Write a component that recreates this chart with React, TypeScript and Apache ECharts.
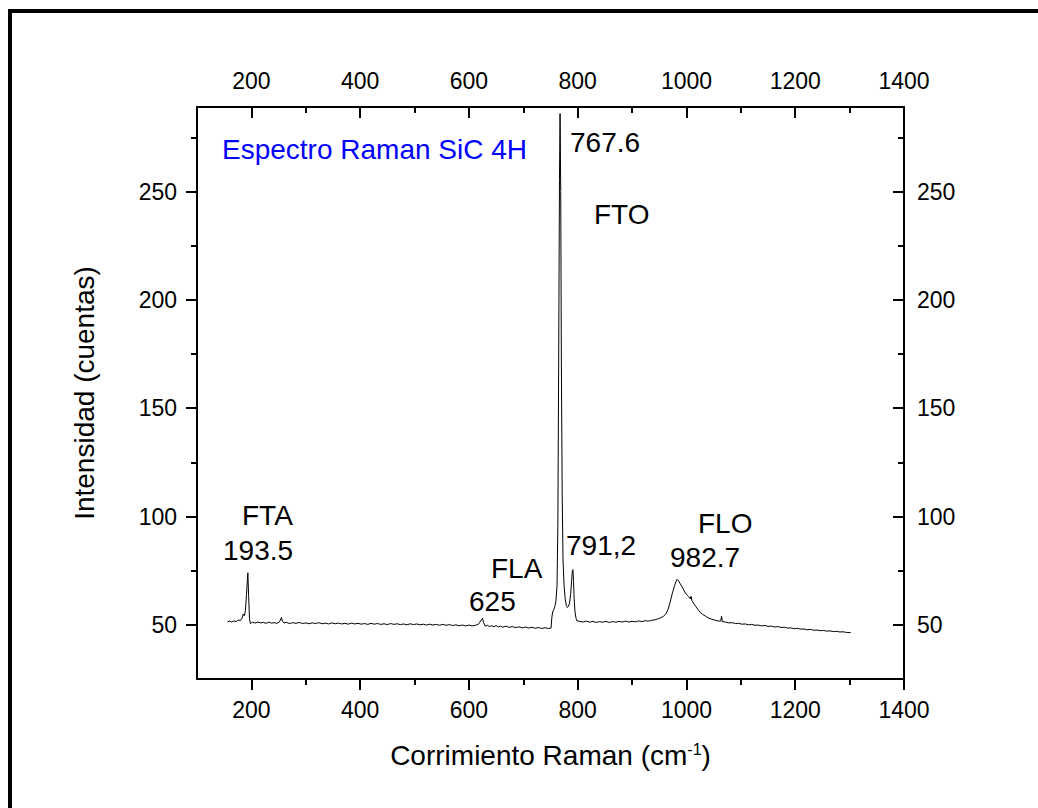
import { useEffect, useRef } from "react";
import * as echarts from "echarts";

const FONT = '"Liberation Sans", Arial, Helvetica, sans-serif';

// Raman shift (cm-1) / intensity (counts) pairs, read section by section.
const acousticRegion: [number, number][] = [
  [156, 51.4], [160, 51.7], [164, 51.3], [168, 51.8], [172, 51.5], [176, 52.2], [180, 52.0],
  [183, 53.2], [185, 55.0], [187, 54.2], [189, 56.5], [191, 64], [193.5, 74], [195, 63],
  [196.5, 53], [198, 50.6], [202, 51.2], [207, 50.8], [212, 51.3], [217, 50.9], [222, 51.1],
  [227, 50.7], [232, 51.2], [237, 50.8], [242, 51.0], [247, 50.7], [251, 51.2], [253.5, 52.2],
  [255.3, 53.4], [257, 51.6], [260, 50.9], [265, 51.1], [270, 50.6], [276, 51.0], [282, 50.7],
  [288, 51.1], [294, 50.6], [300, 50.9], [306, 50.5], [312, 50.9], [318, 50.6], [324, 51.0],
  [330, 50.5], [336, 50.8], [342, 50.4], [348, 50.9], [354, 50.5], [360, 50.8], [366, 50.4],
  [372, 50.7], [378, 50.3], [384, 50.8], [390, 50.4], [396, 50.7], [402, 50.3], [408, 50.6],
  [414, 50.2], [420, 50.7], [426, 50.3], [432, 50.6], [438, 50.2], [444, 50.5], [450, 50.1],
  [456, 50.6], [462, 50.2], [468, 50.5], [474, 50.1], [480, 50.4], [486, 50.0], [492, 50.5],
  [498, 50.1], [504, 50.4], [510, 50.0], [516, 50.3], [522, 49.9], [528, 50.3], [534, 49.9],
  [540, 50.2], [546, 49.8], [552, 50.2], [558, 49.8], [564, 50.1], [570, 49.7], [576, 50.0],
  [582, 49.6], [588, 49.9], [594, 49.5], [600, 49.9], [606, 49.5], [612, 49.8], [617, 50.2],
  [620, 51.2], [622.5, 52.2], [625, 53.0], [627, 51.0], [630, 49.4], [634, 49.8], [638, 49.2],
  [642, 49.6], [646, 49.1], [650, 49.7], [654, 49.0], [658, 49.4], [662, 48.9], [668, 49.4],
  [674, 48.8], [680, 49.2], [686, 48.7], [692, 49.1], [698, 48.6], [704, 49.0], [710, 48.5],
  [716, 48.9], [722, 48.4], [728, 48.8], [734, 48.3], [740, 48.7], [746, 48.3], [751, 48.5],
];

const opticalTORegion: [number, number][] = [
  [752.5, 53.5], [754, 56.0], [756, 57.0], [758, 58.5], [760, 61], [762, 68], [763.5, 95],
  [765, 170], [766.5, 255], [767.6, 286], [768.8, 250], [770, 170], [771.5, 110], [773, 80],
  [775, 68], [777, 62], [779, 59], [781, 58], [783, 58.5], [785, 60], [787, 64], [789, 71],
  [790.2, 75], [791.2, 75.5], [792.3, 70], [793.5, 62], [795, 56], [797, 53], [799, 51.8],
];

const opticalLORegion: [number, number][] = [
  [804, 51.6], [810, 51.3], [816, 51.7], [822, 51.2], [828, 51.6], [834, 51.1], [840, 51.5],
  [846, 51.2], [852, 51.6], [858, 51.1], [864, 51.5], [870, 51.2], [876, 51.6], [882, 51.3],
  [888, 51.7], [894, 51.3], [900, 51.6], [906, 51.4], [912, 51.8], [918, 51.5], [924, 51.9],
  [930, 51.7], [936, 52.1], [942, 52.3], [948, 52.8], [953, 53.3], [958, 54.0], [962, 55.0],
  [966, 57.0], [970, 60.5], [974, 64.5], [978, 68.0], [981, 70.2], [982.7, 71.0], [985, 70.4],
  [988, 69.2], [992, 67.5], [996, 65.6], [1000, 64.0], [1004, 63.0], [1007, 62.0],
  [1008.5, 63.2], [1010, 61.2], [1014, 59.6], [1018, 58.2], [1022, 56.8], [1026, 55.6],
  [1030, 54.8], [1035, 54.0], [1040, 53.2], [1046, 52.6], [1052, 52.2], [1058, 51.8],
  [1063, 51.7], [1064.5, 54.0], [1066, 51.5], [1072, 51.3], [1078, 50.9], [1084, 51.0],
  [1090, 50.6], [1096, 50.7], [1102, 50.3], [1108, 50.4], [1114, 50.0], [1120, 50.2],
  [1126, 49.8], [1132, 49.9], [1138, 49.5], [1144, 49.7], [1150, 49.3], [1156, 49.4],
  [1162, 49.0], [1168, 49.2], [1174, 48.8], [1180, 48.9], [1186, 48.5], [1192, 48.6],
  [1198, 48.2], [1204, 48.4], [1210, 48.0], [1216, 48.1], [1222, 47.7], [1228, 47.9],
  [1234, 47.5], [1240, 47.6], [1246, 47.3], [1252, 47.4], [1258, 47.1], [1264, 47.2],
  [1270, 46.9], [1276, 47.0], [1282, 46.7], [1288, 46.8], [1294, 46.5], [1302, 46.4],
];

const majorShiftTicks = [200, 400, 600, 800, 1000, 1200, 1400];
const minorShiftTicks = [300, 500, 700, 900, 1100, 1300];
const majorCountTicks = [50, 100, 150, 200, 250];
const minorCountTicks = [75, 125, 175, 225, 275];

const SHIFT_MIN = 100;
const SHIFT_MAX = 1400;
const COUNT_MIN = 25;
const COUNT_MAX = 289;

export default function App() {
  const ref = useRef<HTMLDivElement>(null);

  useEffect(() => {
    if (!ref.current) return;
    const chart = echarts.init(ref.current, undefined, { renderer: "svg" });

    const black = "#000";
    const line = { color: black, width: 2 };
    const tickFont = {
      fontSize: 23,
      color: black,
      fontFamily: FONT,
      formatter: (v: number) => String(v),
    };

    const xBase = {
      type: "value" as const,
      min: SHIFT_MIN,
      max: SHIFT_MAX,
      interval: 100,
      splitLine: { show: false },
      axisLine: { show: false },
      axisLabel: { show: false },
      axisTick: { show: false },
    };
    const yBase = {
      type: "value" as const,
      min: COUNT_MIN,
      max: COUNT_MAX,
      interval: 25,
      splitLine: { show: false },
      axisLine: { show: false },
      axisLabel: { show: false },
      axisTick: { show: false },
    };

    const spectrum = [...acousticRegion, ...opticalTORegion, ...opticalLORegion];

    const annotation = (text: string, x: number, y: number, fill = black) => ({
      type: "text",
      x,
      y,
      silent: true,
      style: {
        text,
        fill,
        fontSize: 28,
        fontFamily: FONT,
        align: "left",
        verticalAlign: "middle",
        textAlign: "left",
        textVerticalAlign: "middle",
      },
    });

    chart.setOption({
      animation: false,
      backgroundColor: "#fff",
      grid: {
        left: 197,
        right: 134,
        top: 107,
        bottom: 129,
        containLabel: false,
        outerBoundsMode: "none",
      },
      xAxis: [
        {
          ...xBase,
          position: "bottom",
          axisLine: { show: true, onZero: false, lineStyle: line },
          axisTick: { show: true, customValues: majorShiftTicks, length: 11, lineStyle: line },
          axisLabel: { show: true, customValues: majorShiftTicks, margin: 19, ...tickFont },
          name: "Corrimiento Raman (cm{sup|-1})",
          nameLocation: "middle",
          nameGap: 62,
          nameTextStyle: {
            fontSize: 28,
            color: black,
            fontFamily: FONT,
            rich: {
              sup: { fontSize: 16, color: black, fontFamily: FONT, verticalAlign: "top" },
            },
          },
        },
        {
          ...xBase,
          position: "bottom",
          axisTick: { show: true, customValues: minorShiftTicks, length: 6, lineStyle: line },
        },
        {
          ...xBase,
          position: "top",
          axisLine: { show: true, onZero: false, lineStyle: line },
          axisTick: { show: true, inside: true, customValues: majorShiftTicks, length: 11, lineStyle: line },
          axisLabel: { show: true, customValues: majorShiftTicks, margin: 15, ...tickFont },
        },
        {
          ...xBase,
          position: "top",
          axisTick: { show: true, inside: true, customValues: minorShiftTicks, length: 6, lineStyle: line },
        },
      ],
      yAxis: [
        {
          ...yBase,
          position: "left",
          axisLine: { show: true, onZero: false, lineStyle: line },
          axisTick: { show: true, customValues: majorCountTicks, length: 11, lineStyle: line },
          axisLabel: { show: true, customValues: majorCountTicks, margin: 20, ...tickFont },
          name: "Intensidad (cuentas)",
          nameLocation: "middle",
          nameGap: 99,
          nameTextStyle: { fontSize: 28, color: black, fontFamily: FONT },
        },
        {
          ...yBase,
          position: "left",
          axisTick: { show: true, customValues: minorCountTicks, length: 6, lineStyle: line },
        },
        {
          ...yBase,
          position: "right",
          axisLine: { show: true, onZero: false, lineStyle: line },
          axisTick: { show: true, inside: true, customValues: majorCountTicks, length: 11, lineStyle: line },
          axisLabel: { show: true, customValues: majorCountTicks, margin: 13, ...tickFont },
        },
        {
          ...yBase,
          position: "right",
          axisTick: { show: true, inside: true, customValues: minorCountTicks, length: 6, lineStyle: line },
        },
      ],
      series: [
        {
          type: "line",
          xAxisIndex: 0,
          yAxisIndex: 0,
          data: spectrum,
          showSymbol: false,
          symbol: "none",
          silent: true,
          lineStyle: { color: black, width: 1 },
        },
      ],
      graphic: [
        // page frame (left and top edges)
        { type: "rect", shape: { x: 8, y: 9, width: 4, height: 799 }, style: { fill: black }, silent: true },
        { type: "rect", shape: { x: 8, y: 9, width: 1030, height: 4 }, style: { fill: black }, silent: true },
        annotation("Espectro Raman SiC 4H", 222, 149, "#0000ff"),
        annotation("767.6", 570, 142),
        annotation("FTO", 594, 214),
        annotation("FTA", 242, 515),
        annotation("193.5", 223, 550),
        annotation("FLA", 491, 568),
        annotation("625", 469, 601),
        annotation("791,2", 566, 545),
        annotation("FLO", 698, 523),
        annotation("982.7", 670, 557),
      ],
    });

    return () => chart.dispose();
  }, []);

  return (
    <div
      ref={ref}
      style={{ position: "absolute", left: 0, top: 0, width: 1038, height: 808, background: "#fff" }}
    />
  );
}
